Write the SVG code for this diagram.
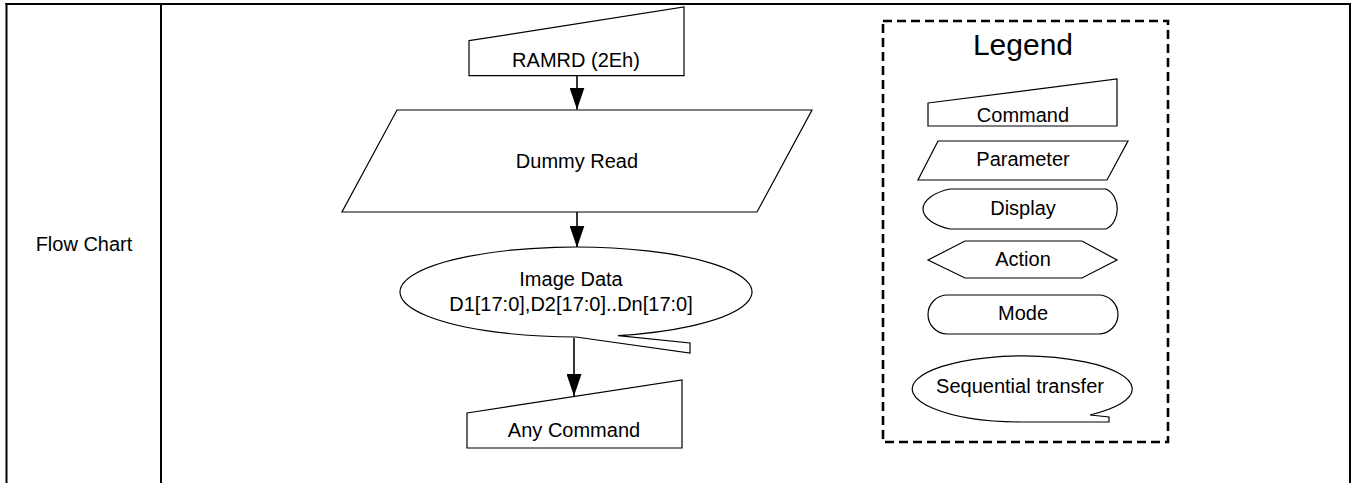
<svg xmlns="http://www.w3.org/2000/svg" width="1358" height="483" viewBox="0 0 1358 483">
<defs>
<style>
.t{font-family:"Liberation Sans",Arial,sans-serif;font-size:20px;fill:#000;text-anchor:middle}
.s{fill:#fff;stroke:#000;stroke-width:1.2}
.c{stroke:#000;stroke-width:1.6;fill:none}
</style>
<marker id="ah" markerUnits="userSpaceOnUse" markerWidth="22" markerHeight="15" refX="22" refY="7.5" orient="auto" viewBox="0 0 22 15">
<path d="M0,0 L22,7.5 L0,15 Z" fill="#000"/>
</marker>
</defs>
<rect width="1358" height="483" fill="#fff"/>
<g id="table" stroke="#000" stroke-width="2" fill="none">
<line x1="5.5" y1="4" x2="1351" y2="4"/>
<line x1="6.5" y1="3" x2="6.5" y2="483"/>
<line x1="161" y1="4" x2="161" y2="483"/>
<line x1="1350" y1="3" x2="1350" y2="483"/>
</g>
<g id="label-flowchart"><text class="t" x="84" y="251">Flow Chart</text></g>
<g id="connectors">
<line class="c" x1="577" y1="76" x2="577" y2="109.5" marker-end="url(#ah)"/>
<line class="c" x1="577" y1="212" x2="577" y2="247.5" marker-end="url(#ah)"/>
<line class="c" x1="574" y1="338" x2="574" y2="396" marker-end="url(#ah)"/>
</g>
<g id="n-ramrd">
<polygon class="s" points="469,40.7 684,7 684,75.7 469,75.7"/>
<text class="t" x="576" y="67">RAMRD (2Eh)</text>
</g>
<g id="n-dummy">
<polygon class="s" points="397,110 812,110 757,212 342,212"/>
<text class="t" x="577" y="168">Dummy Read</text>
</g>
<g id="n-image">
<path class="s" d="M618,335.7 A176,45 0 1 0 576,337 L690,353 L690,343 Z"/>
<text class="t" x="571" y="286">Image Data</text>
<text class="t" x="571" y="311">D1[17:0],D2[17:0]..Dn[17:0]</text>
</g>
<g id="n-any">
<polygon class="s" points="467,413 682,380 682,448 467,448"/>
<text class="t" x="574" y="437">Any Command</text>
</g>
<g id="legend">
<rect x="883" y="21" width="285" height="421" fill="none" stroke="#000" stroke-width="2.6" stroke-dasharray="9,5"/>
<text x="1023" y="55" style="font-family:'Liberation Sans',Arial,sans-serif;font-size:30px;text-anchor:middle">Legend</text>
</g>
<g id="lg-command">
<polygon class="s" points="928,103 1117,79 1117,126 928,126"/>
<text class="t" x="1023" y="122">Command</text>
</g>
<g id="lg-parameter">
<polygon class="s" points="938,141 1128,141 1107,180 918,180"/>
<text class="t" x="1023" y="166">Parameter</text>
</g>
<g id="lg-display">
<path class="s" stroke="#333" d="M950,189 L1106,189 C1121,196 1121,222 1106,229 L950,229 C935,226 923,218 923,209 C923,200 935,192 950,189 Z"/>
<text class="t" x="1023" y="215">Display</text>
</g>
<g id="lg-action">
<polygon class="s" points="928,260 965,241 1082,241 1117,260 1082,278 965,278"/>
<text class="t" x="1023" y="266">Action</text>
</g>
<g id="lg-mode">
<rect class="s" x="928" y="295" width="190" height="39" rx="19.5"/>
<text class="t" x="1023" y="320">Mode</text>
</g>
<g id="lg-seq">
<path class="s" d="M1090,415 A110,33 0 1 0 1022,422 L1109,422 L1109,417 Z"/>
<text class="t" x="1020" y="393">Sequential transfer</text>
</g>
</svg>
